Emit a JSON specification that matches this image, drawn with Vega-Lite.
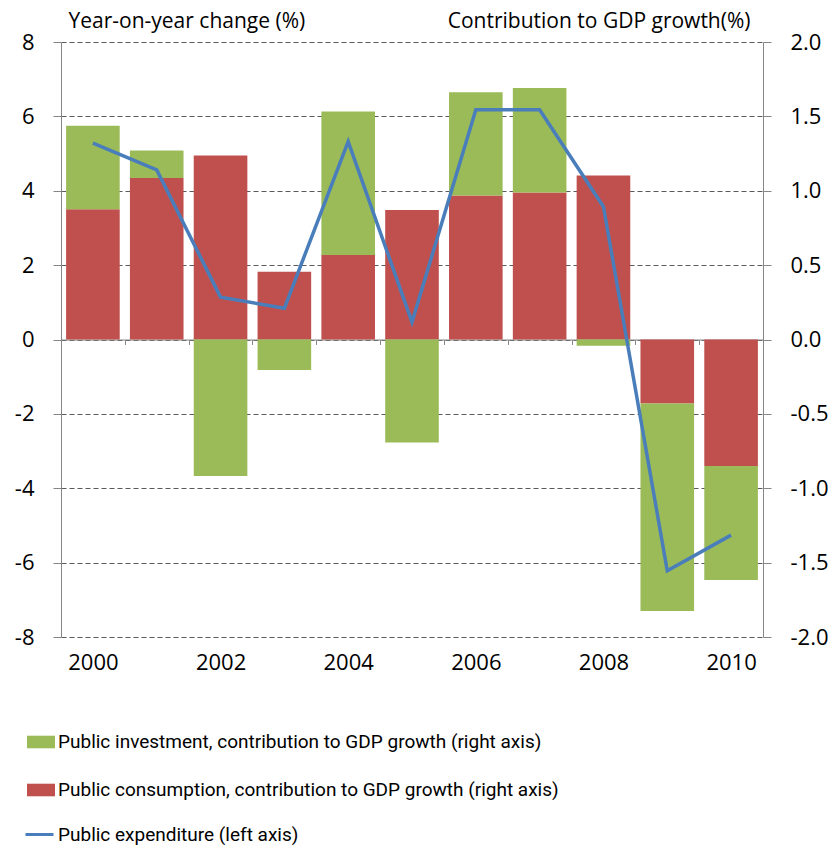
{
  "$schema": "https://vega.github.io/schema/vega-lite/v6.json",
  "width": 702,
  "height": 595,
  "autosize": {"type": "none"},
  "padding": {"left": 61, "top": 42, "right": 74, "bottom": 214},
  "background": "white",
  "config": {"view": {"stroke": null}, "font": "Open Sans"},
  "datasets": {
    "bars": [
      {"year": 2000, "series": "Public consumption, contribution to GDP growth (right axis)", "value": 0.875},
      {"year": 2000, "series": "Public investment, contribution to GDP growth (right axis)", "value": 0.5625},
      {"year": 2001, "series": "Public consumption, contribution to GDP growth (right axis)", "value": 1.085},
      {"year": 2001, "series": "Public investment, contribution to GDP growth (right axis)", "value": 0.185},
      {"year": 2002, "series": "Public consumption, contribution to GDP growth (right axis)", "value": 1.2375},
      {"year": 2002, "series": "Public investment, contribution to GDP growth (right axis)", "value": -0.9175},
      {"year": 2003, "series": "Public consumption, contribution to GDP growth (right axis)", "value": 0.455},
      {"year": 2003, "series": "Public investment, contribution to GDP growth (right axis)", "value": -0.205},
      {"year": 2004, "series": "Public consumption, contribution to GDP growth (right axis)", "value": 0.5675},
      {"year": 2004, "series": "Public investment, contribution to GDP growth (right axis)", "value": 0.965},
      {"year": 2005, "series": "Public consumption, contribution to GDP growth (right axis)", "value": 0.87},
      {"year": 2005, "series": "Public investment, contribution to GDP growth (right axis)", "value": -0.6925},
      {"year": 2006, "series": "Public consumption, contribution to GDP growth (right axis)", "value": 0.9675},
      {"year": 2006, "series": "Public investment, contribution to GDP growth (right axis)", "value": 0.695},
      {"year": 2007, "series": "Public consumption, contribution to GDP growth (right axis)", "value": 0.9875},
      {"year": 2007, "series": "Public investment, contribution to GDP growth (right axis)", "value": 0.7025},
      {"year": 2008, "series": "Public consumption, contribution to GDP growth (right axis)", "value": 1.1025},
      {"year": 2008, "series": "Public investment, contribution to GDP growth (right axis)", "value": -0.0425},
      {"year": 2009, "series": "Public consumption, contribution to GDP growth (right axis)", "value": -0.43},
      {"year": 2009, "series": "Public investment, contribution to GDP growth (right axis)", "value": -1.395},
      {"year": 2010, "series": "Public consumption, contribution to GDP growth (right axis)", "value": -0.85},
      {"year": 2010, "series": "Public investment, contribution to GDP growth (right axis)", "value": -0.7675}
    ],
    "line": [
      {"year": 2000, "value": 5.28},
      {"year": 2001, "value": 4.56},
      {"year": 2002, "value": 1.14},
      {"year": 2003, "value": 0.84},
      {"year": 2004, "value": 5.32},
      {"year": 2005, "value": 0.47},
      {"year": 2006, "value": 6.18},
      {"year": 2007, "value": 6.18},
      {"year": 2008, "value": 3.57},
      {"year": 2009, "value": -6.22},
      {"year": 2010, "value": -5.26}
    ]
  },
  "encoding": {
    "x": {
      "field": "year",
      "type": "ordinal",
      "scale": {"paddingInner": 0, "paddingOuter": 0},
      "axis": {
        "orient": "bottom",
        "offset": -297.5,
        "title": null,
        "grid": false,
        "domainColor": "#868686",
        "tickColor": "#868686",
        "tickSize": 5,
        "tickBand": "extent",
        "labelAngle": 0,
        "labelPadding": 318,
        "labelFontSize": 22,
        "labelColor": "#000000",
        "labelBaseline": "middle",
        "labelExpr": "datum.value % 2 == 0 ? datum.label : ''"
      }
    }
  },
  "layer": [
    {
      "data": {"name": "bars"},
      "mark": {"type": "bar", "width": {"band": 0.84}},
      "encoding": {
        "y": {
          "field": "value",
          "type": "quantitative",
          "stack": "zero",
          "scale": {"domain": [-2, 2], "nice": false, "zero": false},
          "axis": {
            "orient": "right",
            "values": [-2, -1.5, -1, -0.5, 0, 0.5, 1, 1.5, 2],
            "format": ".1f",
            "labelExpr": "replace(datum.label, '\u2212', '-')",
            "grid": false,
            "domainColor": "#868686",
            "tickColor": "#868686",
            "tickSize": 8,
            "labelPadding": 19,
            "labelFontSize": 22,
            "labelColor": "#000000",
            "title": "Contribution to GDP growth(%)",
            "titleAngle": 0,
            "titleAlign": "right",
            "titleBaseline": "alphabetic",
            "titleX": -13,
            "titleY": -15,
            "titleFontSize": 21,
            "titleFontWeight": "normal",
            "titleColor": "#000000"
          }
        },
        "fill": {
          "field": "series",
          "type": "nominal",
          "scale": {
            "domain": ["Public investment, contribution to GDP growth (right axis)", "Public consumption, contribution to GDP growth (right axis)"],
            "range": ["#9BBB59", "#C0504D"]
          },
          "legend": {
            "orient": "none",
            "legendX": -34,
            "legendY": 686,
            "title": null,
            "symbolType": "M-1,-0.45H1V0.45H-1Z",
            "symbolSize": 784,
            "symbolStrokeWidth": 0,
            "labelFont": "Roboto",
            "labelFontSize": 19,
            "labelColor": "#000000",
            "labelOffset": 3,
            "labelLimit": 800,
            "rowPadding": 24,
            "padding": 0
          }
        },
        "order": {"field": "series", "sort": "ascending"}
      }
    },
    {
      "data": {"name": "line"},
      "mark": {"type": "line", "strokeWidth": 3.5},
      "encoding": {
        "y": {
          "field": "value",
          "type": "quantitative",
          "scale": {"domain": [-8, 8], "nice": false, "zero": false},
          "axis": {
            "orient": "left",
            "values": [-8, -6, -4, -2, 0, 2, 4, 6, 8],
            "labelExpr": "replace(datum.label, '\u2212', '-')",
            "grid": true,
            "gridDash": [5, 3],
            "gridColor": "#5a5a5a",
            "gridWidth": 1,
            "domainColor": "#868686",
            "tickColor": "#868686",
            "tickSize": 8,
            "labelPadding": 19,
            "labelFontSize": 22,
            "labelColor": "#000000",
            "title": "Year-on-year change (%)",
            "titleAngle": 0,
            "titleAlign": "left",
            "titleBaseline": "alphabetic",
            "titleX": 7,
            "titleY": -15,
            "titleFontSize": 21,
            "titleFontWeight": "normal",
            "titleColor": "#000000"
          }
        },
        "stroke": {
          "datum": "Public expenditure (left axis)",
          "type": "nominal",
          "scale": {"range": ["#4A7EBB"]},
          "legend": {
            "orient": "none",
            "legendX": -37,
            "legendY": 777,
            "title": null,
            "symbolType": "stroke",
            "symbolSize": 784,
            "symbolStrokeWidth": 3,
            "labelFont": "Roboto",
            "labelFontSize": 19,
            "labelColor": "#000000",
            "labelOffset": 3,
            "labelLimit": 800,
            "padding": 0
          }
        }
      }
    }
  ],
  "resolve": {"scale": {"y": "independent", "fill": "independent", "stroke": "independent"}}
}
